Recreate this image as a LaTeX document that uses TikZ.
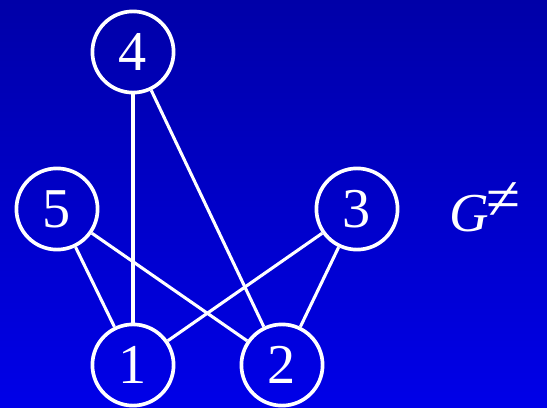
\documentclass[tikz,border=0pt]{standalone}
\usepackage{fontspec}
\setmainfont{Liberation Serif}
\usepackage{tikz}
\usetikzlibrary{shadings}
\definecolor{bgtop}{RGB}{0,0,168}
\definecolor{bgbot}{RGB}{0,0,232}
\tikzstyle{vertex} = [circle, draw=white, line width=2.6pt, minimum size=2.03cm, inner sep=0pt, text=white, font=\fontsize{40}{44}\selectfont]
\tikzstyle{edge} = [white, line width=2.2pt]

\begin{document}
\begin{tikzpicture}
  % background
  \shade[top color=bgtop, bottom color=bgbot] (0,0) rectangle (13.675,10.175);
  \useasboundingbox (0,0) rectangle (13.675,10.175);

  \node[vertex] (v4) at (3.325, 8.875) {4};
  \node[vertex] (v5) at (1.425, 4.95) {5};
  \node[vertex] (v3) at (8.925, 4.95) {3};
  \node[vertex] (v1) at (3.325, 1.05) {1};
  \node[vertex] (v2) at (7.05, 1.05) {2};

  \draw[edge] (v4) -- (v1);
  \draw[edge] (v4) -- (v2);
  \draw[edge] (v5) -- (v1);
  \draw[edge] (v5) -- (v2);
  \draw[edge] (v3) -- (v1);
  \draw[edge] (v3) -- (v2);

  \node[text=white, inner sep=0pt, font=\fontsize{39}{44}\selectfont] (name) at (12.12, 5.0)
    {\textit{G}\hspace{-0.05em}\raisebox{0.22em}{\fontsize{44}{46}\selectfont ≠}};
\end{tikzpicture}
\end{document}
